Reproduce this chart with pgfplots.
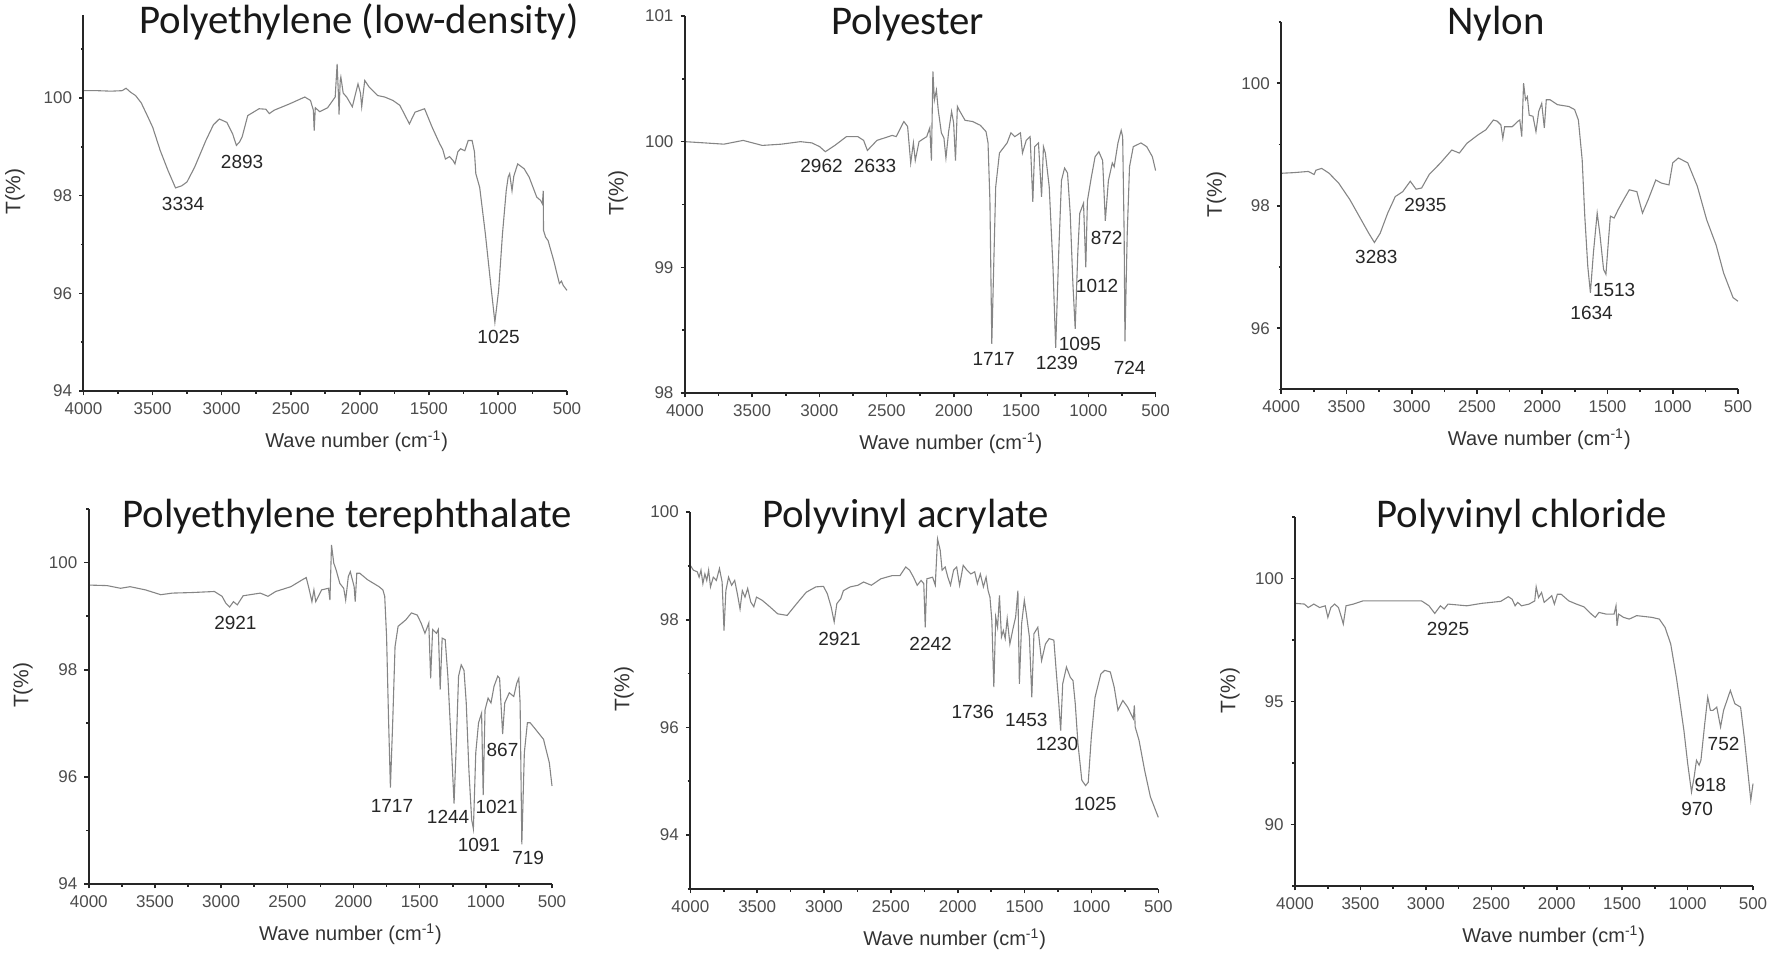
\documentclass[border=0pt]{standalone}
\usepackage{fontspec}
\setmainfont{Liberation Sans}
\newfontfamily\titlefont{Carlito}
\usepackage{pgfplots}
\pgfplotsset{compat=1.18}
\definecolor{specgray}{HTML}{858585}
\pgfplotsset{
  ftir/.style={
    scale only axis, anchor=south west, clip=false,
    axis lines=left, axis line style={draw=none},
    tick align=outside,
    major tick length=2.2pt, minor tick length=1.3pt,
    every tick/.style={line width=0.8pt, black!85},
    xmin=-4000, xmax=-500,
    xtick={-4000,-3500,-3000,-2500,-2000,-1500,-1000,-500},
    xticklabels={4000,3500,3000,2500,2000,1500,1000,500},
    minor xtick={-3750,-3250,-2750,-2250,-1750,-1250,-750},
    /pgf/number format/assume math mode=true,
    /pgf/number format/1000 sep={},
    ticklabel style={font=\fontsize{8.5}{9}\selectfont, text=black!70},
    xlabel={Wave number (cm\textsuperscript{-1})},
    ylabel={T(\%)},
    xlabel style={font=\fontsize{10}{11}\selectfont, text=black!80, at={(axis description cs:0.565,0)}, anchor=center, yshift=-25pt},
    ylabel style={font=\fontsize{10.5}{11}\selectfont, text=black!80, at={(axis description cs:-0.142,0.53)}, anchor=center, rotate=0},
    after end axis/.code={\draw[line width=1pt, black!85] (rel axis cs:0,1) -- (rel axis cs:0,0) -- (rel axis cs:1,0);},
  },
  spec/.style={color=specgray, line width=0.55pt, no markers},
}
\tikzset{
  ann/.style={font=\fontsize{9.5}{10}\selectfont, text=black!85, inner sep=0pt},
  ttl/.style={font=\titlefont\fontsize{20.4}{21}\selectfont, text=black!90, inner sep=0pt, yshift=-1.7pt},
}
\begin{document}
\begin{tikzpicture}
\path[use as bounding box] (0,0) rectangle (886pt,478.5pt);

% ---------- Panel 1: Polyethylene (low-density)
\begin{axis}[ftir, at={(41.75pt,283pt)}, width=241.75pt, height=188pt,
  ymin=94, ymax=101.7, ytick={94,96,98,100}, minor ytick={95,97,99,101}]
\addplot[spec] table[x expr=-\thisrowno{0}, y index=1] {
4000 100.15
3900 100.15
3800 100.14
3720 100.15
3692 100.2
3660 100.12
3623 100.05
3582 99.9
3540 99.65
3499 99.4
3444 98.92
3389 98.52
3334 98.16
3290 98.2
3251 98.28
3196 98.58
3114 99.13
3060 99.45
3017 99.57
2962 99.5
2921 99.27
2893 99.03
2870 99.1
2852 99.2
2811 99.64
2729 99.78
2680 99.77
2655 99.68
2620 99.75
2508 99.88
2398 100.02
2357 99.95
2336 99.75
2330 99.33
2322 99.8
2290 99.72
2233 99.8
2178 100.02
2164 100.7
2155 100.1
2150 99.66
2142 100.35
2137 100.43
2120 100.1
2095 100.02
2054 99.82
2013 100.29
1995 100.1
1986 99.82
1975 100.1
1964 100.36
1931 100.22
1870 100.05
1820 100.02
1760 99.95
1710 99.85
1641 99.47
1600 99.71
1531 99.78
1476 99.4
1421 99.06
1400 98.95
1380 98.75
1350 98.8
1325 98.72
1311 98.65
1290 98.9
1270 98.96
1240 98.92
1215 99.13
1187 99.13
1170 98.9
1160 98.45
1132 98.17
1091 97.22
1050 96.13
1022 95.41
995 96.06
967 97.22
940 98.1
926 98.38
915 98.45
898 98.1
885 98.4
857 98.65
810 98.55
774 98.38
719 97.97
690 97.9
678 97.83
672 98.1
670 97.29
655 97.15
637 97.08
596 96.67
555 96.2
540 96.25
527 96.16
500 96.06
};
\node[ann] at (axis cs:-3279,97.83) {3334};
\node[ann] at (axis cs:-2852,98.69) {2893};
\node[ann] at (axis cs:-995,95.1) {1025};
\node[ttl] at (rel axis cs:0.57,0.99) {Polyethylene (low-density)};
\end{axis}

% ---------- Panel 2: Polyester
\begin{axis}[ftir, at={(342.45pt,282pt)}, width=235.35pt, height=188.5pt,
  ymin=98, ymax=101, ytick={98,99,100,101}, minor ytick={98.5,99.5,100.5}]
\addplot[spec] table[x expr=-\thisrowno{0}, y index=1] {
4000 100.0
3852 99.99
3710 99.98
3567 100.01
3425 99.97
3283 99.98
3141 100.0
3055 99.99
2998 99.96
2956 99.92
2885 99.97
2799 100.04
2714 100.04
2671 100.01
2643 99.93
2572 100.01
2458 100.05
2429 100.04
2372 100.16
2344 100.12
2321 99.83
2301 99.99
2287 99.85
2259 100.0
2202 100.04
2179 100.11
2167 99.85
2156 100.56
2145 100.33
2130 100.41
2116 100.25
2093 100.07
2074 100.03
2059 99.87
2039 100.08
2017 100.24
2002 100.15
1988 99.85
1974 100.28
1960 100.25
1917 100.17
1860 100.16
1803 100.13
1761 100.08
1746 99.99
1732 99.53
1718 98.39
1704 99.0
1689 99.64
1661 99.91
1604 99.99
1576 100.07
1547 100.04
1505 100.07
1490 99.91
1462 100.01
1433 100.04
1413 99.52
1399 99.96
1371 99.99
1348 99.56
1334 99.96
1320 99.91
1291 99.64
1263 99.0
1243 98.36
1220 99.13
1200 99.69
1177 99.79
1155 99.75
1135 99.43
1115 98.87
1098 98.51
1078 99.13
1064 99.43
1036 99.51
1019 99.0
1007 99.53
979 99.71
950 99.88
922 99.92
894 99.85
874 99.37
851 99.69
822 99.83
808 99.8
780 99.99
756 100.09
745 100.04
734 99.27
728 98.41
711 99.27
694 99.8
666 99.96
609 99.99
566 99.96
524 99.88
500 99.77
};
\node[ann] at (axis cs:-2984,99.81) {2962};
\node[ann] at (axis cs:-2586,99.81) {2633};
\node[ann] at (axis cs:-864,99.23) {872};
\node[ann] at (axis cs:-935,98.85) {1012};
\node[ann] at (axis cs:-1063,98.39) {1095};
\node[ann] at (axis cs:-1704,98.27) {1717};
\node[ann] at (axis cs:-1234,98.24) {1239};
\node[ann] at (axis cs:-693,98.2) {724};
\node[ttl] at (rel axis cs:0.473,0.99) {Polyester};
\end{axis}

% ---------- Panel 3: Nylon
\begin{axis}[ftir, at={(640.6pt,283.75pt)}, width=228.4pt, height=183.75pt,
  ymin=95, ymax=101, ytick={96,98,100}, minor ytick={95,97,99,101}]
\addplot[spec] table[x expr=-\thisrowno{0}, y index=1] {
4000 98.53
3907 98.54
3792 98.56
3748 98.51
3734 98.58
3690 98.61
3633 98.53
3560 98.37
3474 98.1
3387 97.77
3329 97.55
3286 97.4
3242 97.55
3184 97.88
3126 98.15
3069 98.23
3011 98.4
2967 98.27
2924 98.29
2866 98.51
2779 98.7
2693 98.91
2635 98.86
2577 99.02
2490 99.16
2432 99.24
2374 99.4
2345 99.38
2317 99.32
2302 99.1
2288 99.29
2230 99.29
2186 99.38
2172 99.4
2157 99.13
2143 100.0
2128 99.73
2114 99.78
2100 99.48
2071 99.46
2048 99.21
2027 99.54
2004 99.67
1984 99.27
1969 99.73
1940 99.73
1883 99.65
1796 99.62
1752 99.57
1723 99.4
1694 98.75
1674 97.83
1651 97.01
1631 96.58
1608 97.23
1579 97.88
1559 97.55
1530 96.96
1512 96.88
1492 97.45
1478 97.83
1449 97.8
1420 97.93
1376 98.1
1333 98.26
1275 98.23
1232 97.88
1188 98.1
1130 98.42
1087 98.37
1029 98.34
1000 98.7
957 98.78
885 98.7
812 98.32
740 97.77
668 97.36
610 96.9
538 96.5
500 96.44
};
\node[ann] at (axis cs:-3271,97.17) {3283};
\node[ann] at (axis cs:-2895,98.02) {2935};
\node[ann] at (axis cs:-1449,96.63) {1513};
\node[ann] at (axis cs:-1622,96.25) {1634};
\node[ttl] at (rel axis cs:0.47,1.005) {Nylon};
\end{axis}

% ---------- Panel 4: Polyethylene terephthalate
\begin{axis}[ftir, at={(44.4pt,36.5pt)}, width=231.6pt, height=187.5pt,
  ymin=94, ymax=101, ytick={94,96,98,100}, minor ytick={95,97,99,101}]
\addplot[spec] table[x expr=-\thisrowno{0}, y index=1] {
4000 99.58
3861 99.57
3760 99.52
3688 99.55
3572 99.49
3456 99.4
3369 99.43
3225 99.44
3051 99.46
2993 99.37
2964 99.24
2936 99.17
2907 99.27
2878 99.21
2834 99.38
2704 99.43
2646 99.37
2588 99.46
2473 99.55
2386 99.68
2357 99.72
2334 99.49
2314 99.27
2299 99.49
2285 99.27
2241 99.49
2189 99.52
2178 99.3
2166 100.33
2149 99.99
2131 99.86
2103 99.61
2074 99.52
2059 99.3
2039 99.74
2024 99.83
1995 99.55
1987 99.27
1975 99.8
1952 99.8
1894 99.68
1807 99.55
1778 99.49
1764 99.37
1750 98.62
1735 97.07
1721 95.8
1703 97.07
1686 98.43
1663 98.81
1605 98.93
1562 99.06
1518 99.02
1489 98.87
1460 98.68
1431 98.87
1417 97.84
1402 98.75
1373 98.68
1359 98.75
1345 97.63
1330 98.59
1307 98.56
1287 97.88
1258 96.45
1240 95.5
1223 96.63
1206 97.88
1186 98.09
1165 97.99
1148 97.38
1128 96.13
1107 95.2
1094 95.03
1076 96.45
1055 97.01
1032 97.19
1020 95.66
1006 97.25
983 97.47
961 97.38
938 97.69
910 97.88
896 97.84
873 96.8
857 97.38
823 97.57
789 97.5
766 97.75
751 97.84
741 97.38
728 94.74
709 96.45
686 97.01
665 97.01
622 96.88
564 96.7
520 96.26
500 95.83
};
\node[ann] at (axis cs:-2892,98.87) {2921};
\node[ann] at (axis cs:-1709,95.46) {1717};
\node[ann] at (axis cs:-1285,95.25) {1244};
\node[ann] at (axis cs:-874,96.5) {867};
\node[ann] at (axis cs:-918,95.43) {1021};
\node[ann] at (axis cs:-1052,94.73) {1091};
\node[ann] at (axis cs:-680,94.48) {719};
\node[ttl] at (rel axis cs:0.558,0.99) {Polyethylene terephthalate};
\end{axis}

% ---------- Panel 5: Polyvinyl acrylate
\begin{axis}[ftir, at={(345.15pt,34pt)}, width=234pt, height=188.5pt,
  ymin=93, ymax=100, ytick={94,96,98,100}, minor ytick={93,95,97,99}]
\addplot[spec] table[x expr=-\thisrowno{0}, y index=1] {
4000 99.01
3977 98.92
3948 98.89
3934 98.79
3920 98.92
3906 98.67
3891 98.85
3877 98.73
3863 98.92
3849 98.61
3828 98.79
3805 98.73
3782 98.95
3762 98.7
3748 97.8
3734 98.54
3714 98.79
3691 98.64
3668 98.73
3648 98.48
3628 98.2
3611 98.54
3591 98.42
3571 98.58
3548 98.33
3525 98.24
3505 98.42
3462 98.36
3405 98.24
3347 98.11
3276 98.08
3204 98.3
3133 98.51
3061 98.61
3004 98.62
2975 98.48
2947 98.24
2924 97.96
2904 98.3
2875 98.39
2855 98.54
2804 98.61
2746 98.64
2704 98.7
2646 98.64
2575 98.76
2489 98.82
2432 98.82
2389 98.98
2360 98.92
2331 98.79
2303 98.64
2274 98.73
2254 98.67
2243 97.86
2231 98.76
2188 98.79
2168 98.64
2151 99.5
2131 99.29
2117 98.92
2094 98.98
2074 98.79
2054 98.64
2031 98.92
2008 98.98
1986 98.64
1959 99.01
1931 98.92
1902 98.85
1873 98.89
1853 98.67
1831 98.85
1808 98.61
1788 98.79
1773 98.54
1759 98.42
1745 97.99
1730 96.75
1716 98.05
1702 97.86
1688 98.45
1673 97.68
1659 97.8
1645 97.65
1630 98.02
1610 97.55
1587 97.83
1567 98.05
1550 98.54
1539 96.81
1522 97.93
1502 98.36
1487 98.11
1464 97.68
1446 96.56
1430 97.74
1401 97.86
1373 97.24
1344 97.55
1316 97.65
1281 97.62
1264 97.06
1244 96.44
1230 95.94
1215 96.81
1187 97.12
1158 96.93
1138 96.87
1121 96.44
1101 95.7
1072 95.02
1044 94.92
1024 94.98
1001 95.82
973 96.56
930 96.99
901 97.06
859 97.03
830 96.75
802 96.32
765 96.5
730 96.38
687 96.16
679 96.41
673 96.01
644 95.76
602 95.2
559 94.71
500 94.33
};
\node[ann] at (axis cs:-2884,97.65) {2921};
\node[ann] at (axis cs:-2203,97.55) {2242};
\node[ann] at (axis cs:-1888,96.28) {1736};
\node[ann] at (axis cs:-1487,96.13) {1453};
\node[ann] at (axis cs:-1258,95.7) {1230};
\node[ann] at (axis cs:-972,94.58) {1025};
\node[ttl, yshift=1.2pt] at (rel axis cs:0.46,0.99) {Polyvinyl acrylate};
\end{axis}

% ---------- Panel 6: Polyvinyl chloride
\begin{axis}[ftir, at={(647.5pt,35.5pt)}, width=229pt, height=184.5pt,
  ymin=87.5, ymax=102.5, ytick={90,95,100}, minor ytick={87.5,92.5,97.5,102.5}]
\addplot[spec] table[x expr=-\thisrowno{0}, y index=1] {
4000 98.99
3928 98.96
3899 98.82
3856 98.96
3812 98.82
3769 98.89
3749 98.42
3726 98.82
3697 98.96
3668 98.82
3645 98.42
3631 98.15
3610 98.89
3553 98.96
3481 99.09
3293 99.09
3033 99.09
2976 98.89
2932 98.58
2889 98.89
2860 98.76
2831 98.96
2687 98.89
2572 98.99
2428 99.07
2370 99.26
2341 99.16
2318 98.89
2298 99.03
2269 98.89
2211 98.96
2168 99.09
2157 99.66
2139 99.23
2116 99.43
2096 99.03
2067 99.16
2038 99.3
2018 98.96
1995 99.36
1966 99.36
1908 99.09
1850 98.96
1793 98.85
1735 98.55
1706 98.42
1677 98.62
1620 98.55
1562 98.55
1547 98.89
1539 98.08
1527 98.55
1490 98.42
1446 98.35
1389 98.49
1273 98.42
1216 98.35
1172 98.01
1129 97.34
1086 95.99
1057 94.91
1028 93.82
999 92.47
970 91.32
950 91.93
932 92.61
912 92.41
898 92.61
869 94.09
846 95.18
826 94.64
806 94.64
777 94.77
748 93.96
725 94.64
673 95.45
639 94.91
595 94.77
567 93.55
538 92.07
517 90.99
500 91.66
};
\node[ann] at (axis cs:-2831,97.95) {2925};
\node[ann] at (axis cs:-725,93.28) {752};
\node[ann] at (axis cs:-826,91.59) {918};
\node[ann] at (axis cs:-927,90.65) {970};
\node[ttl] at (rel axis cs:0.495,1.01) {Polyvinyl chloride};
\end{axis}
\end{tikzpicture}
\end{document}
